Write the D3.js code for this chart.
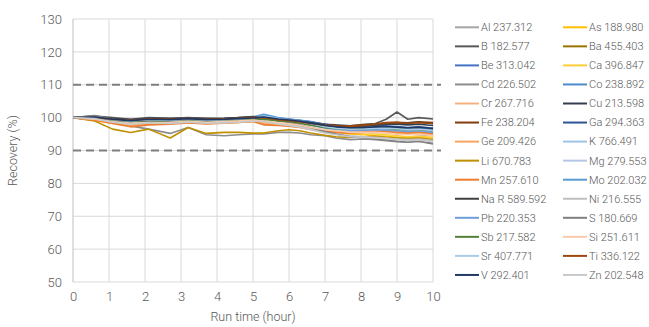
<!DOCTYPE html>
<html>
<head>
<meta charset="utf-8">
<script src="https://cdn.jsdelivr.net/npm/d3@7"></script>
<style>
  body { margin: 0; background: #fff; }
  text { font-family: Roboto, "Noto Sans", sans-serif; font-weight: 300; fill: #595959; }
</style>
</head>
<body>
<div id="chart"></div>
<script>
// run time (hour) at each measurement
const hours = [0, 0.6, 1.1, 1.6, 2.1, 2.7, 3.2, 3.7, 4.2, 4.6, 5.0, 5.3, 5.7, 6.0, 6.3, 6.6, 7.0, 7.3, 7.7, 8.1, 8.4, 8.7, 9.0, 9.3, 9.6, 10];

const elements = ["Al 237.312", "As 188.980", "B 182.577", "Ba 455.403", "Be 313.042", "Ca 396.847",
  "Cd 226.502", "Co 238.892", "Cr 267.716", "Cu 213.598", "Fe 238.204", "Ga 294.363",
  "Ge 209.426", "K 766.491", "Li 670.783", "Mg 279.553", "Mn 257.610", "Mo 202.032",
  "Na R 589.592", "Ni 216.555", "Pb 220.353", "S 180.669", "Sb 217.582", "Si 251.611",
  "Sr 407.771", "Ti 336.122", "V 292.401", "Zn 202.548"];

const colors = ["#a5a5a5", "#ffc000", "#595959", "#997300", "#4472c4", "#ffcd38",
  "#8c8c8c", "#4a8ccc", "#f4b183", "#333f50", "#843c0c", "#2f5597",
  "#f8a35e", "#9dc3e6", "#bf9000", "#b4c7e7", "#ed7d31", "#5b9bd5",
  "#404040", "#bfbfbf", "#6f9fd8", "#7f7f7f", "#548235", "#f8cbad",
  "#a9cceb", "#9e480e", "#1f3864", "#c9c9c9"];

// recovery (%) per element, same order as elements
const recovery = [
  [100, 100.5, 99.5, 99, 99.5, 99.5, 99.8, 99.5, 99.5, 99.8, 100, 100.2, 99.5, 99.3, 99, 98.5, 97.5, 97, 96.5, 96, 96, 95.5, 95, 95, 94.8, 94.5],
  [100, 99.5, 98.5, 98, 98.5, 98.5, 98.8, 98.5, 98.5, 98.5, 98.8, 98.5, 98, 97.8, 97.3, 96.5, 95.8, 95.5, 95, 94.8, 94.5, 94.3, 94, 93.8, 94, 93.8],
  [100, 100.5, 100, 99.5, 100, 99.8, 100, 99.8, 99.7, 100, 100.2, 100, 99.5, 99.3, 99, 98.5, 98, 97.8, 97.5, 98, 98.2, 99.5, 101.7, 99.5, 100, 99.6],
  [100, 100, 99.3, 99, 99.5, 99.3, 99.5, 99.3, 99.3, 99.5, 99.8, 99.8, 99.2, 99, 98.5, 98, 97.5, 97.5, 97.3, 97.5, 97.8, 98.3, 98.5, 98.3, 98.5, 98.3],
  [100, 100.3, 99.5, 99.3, 99.6, 99.5, 99.8, 99.5, 99.6, 99.8, 100, 100.5, 99.8, 99.5, 99.2, 98.8, 98, 97.5, 97.3, 97.3, 97.5, 97.5, 97.3, 97, 97.2, 96.8],
  [100, 99.5, 98.8, 98.3, 98.6, 98.6, 99, 98.7, 98.8, 98.8, 99, 99, 98.3, 98, 97.5, 96.8, 96, 95.8, 95.3, 95, 95, 94.8, 94.5, 94.2, 94.3, 94],
  [100, 99.8, 98.5, 97.5, 96.5, 95.2, 97, 94.8, 94.5, 94.8, 95, 95, 95.5, 95.5, 95.3, 94.8, 94.5, 93.8, 93.3, 93.5, 93.3, 93, 92.7, 92.5, 92.8, 92.2],
  [100, 100.2, 99.3, 99, 99.4, 99.3, 99.6, 99.3, 99.5, 99.7, 100, 100.8, 99.8, 99.5, 99, 98.5, 97.5, 97, 96.8, 96.8, 97, 97, 96.8, 96.5, 96.7, 96.3],
  [100, 99.3, 98.5, 97.8, 98.3, 98.5, 98.8, 98.5, 98.8, 99, 99.3, 98.3, 98, 97.8, 97.5, 97, 96.3, 96, 95.8, 95.8, 96, 96, 95.8, 95.5, 95.8, 95.3],
  [100, 100.2, 99.6, 99.3, 99.7, 99.6, 99.8, 99.6, 99.7, 99.9, 100, 100.3, 99.7, 99.4, 99, 98.6, 98, 97.6, 97.4, 97.6, 97.8, 98, 98, 97.8, 98, 97.6],
  [100, 100, 99.5, 99.2, 99.6, 99.4, 99.7, 99.5, 99.6, 99.8, 100, 100, 99.5, 99.2, 98.8, 98.3, 97.8, 97.6, 97.5, 97.8, 98, 98.5, 98.6, 98.4, 98.7, 98.5],
  [100, 100.1, 99.4, 99, 99.4, 99.3, 99.6, 99.3, 99.4, 99.6, 99.8, 100.1, 99.5, 99.2, 98.8, 98.3, 97.4, 97, 96.6, 96.7, 96.9, 97, 96.8, 96.6, 96.8, 96.4],
  [100, 99.2, 98.3, 97.5, 98, 98.2, 98.5, 98.2, 98.4, 98.6, 99, 98, 97.8, 97.5, 97.2, 96.5, 96, 95.6, 95.4, 95.5, 95.6, 95.5, 95.2, 95, 95.3, 94.8],
  [100, 100, 99.2, 98.8, 99.2, 99.1, 99.4, 99.1, 99.3, 99.5, 99.8, 100.3, 99.6, 99.2, 98.7, 98, 97, 96.6, 96.3, 96.4, 96.6, 96.5, 96.2, 96, 96.2, 95.7],
  [100, 99, 96.5, 95.5, 96.5, 93.8, 97, 95.2, 95.5, 95.5, 95.3, 95.3, 96, 96.3, 96, 95.3, 94.6, 94.2, 94, 94.2, 94.3, 94, 93.8, 93.6, 93.8, 93.3],
  [100, 100, 99.3, 98.9, 99.3, 99.2, 99.5, 99.2, 99.4, 99.6, 99.9, 100.4, 99.7, 99.3, 98.9, 98.2, 97.2, 96.8, 96.5, 96.6, 96.8, 96.8, 96.5, 96.3, 96.5, 96],
  [100, 99.2, 98.2, 97.2, 97.8, 98, 98.4, 98.1, 98.3, 98.5, 98.8, 97.8, 97.6, 97.4, 97, 96.4, 95.8, 95.5, 95.3, 95.6, 95.8, 95.8, 95.5, 95.3, 95.6, 95.2],
  [100, 100.3, 99.6, 99.3, 99.7, 99.6, 99.9, 99.6, 99.7, 99.9, 100.2, 101, 100, 99.6, 99.2, 98.7, 97.8, 97.3, 97, 97, 97.2, 97.2, 97, 96.8, 97, 96.6],
  [100, 100.3, 99.7, 99.4, 99.8, 99.7, 99.9, 99.7, 99.8, 100, 100.3, 100.2, 99.6, 99.3, 98.9, 98.5, 97.8, 97.5, 97.3, 97.5, 97.8, 98, 98.2, 98.4, 98.6, 98.2],
  [100, 99.8, 98.8, 98.2, 98.5, 98.3, 98.7, 98.4, 98.5, 98.7, 99, 99, 98.2, 97.8, 97.3, 96.5, 95.5, 95, 94.5, 94.2, 94, 93.8, 93.5, 93.3, 93.5, 93],
  [100, 100, 99.2, 98.8, 99.2, 99, 99.4, 99.1, 99.2, 99.4, 99.7, 100.2, 99.4, 99, 98.5, 97.8, 96.8, 96.3, 96, 96.2, 96.3, 96.2, 96, 95.8, 96, 95.5],
  [100, 100.6, 99.5, 98.8, 99, 98.8, 99.3, 99, 99.2, 99.4, 99.7, 99.8, 99, 98.5, 97.8, 97, 95.8, 95, 94.2, 93.8, 93.5, 93.2, 92.8, 92.6, 92.8, 92],
  [100, 99.9, 99.2, 98.8, 99.2, 98.5, 99.3, 98.8, 99, 99.2, 99.5, 99.5, 99, 98.8, 98.3, 97.7, 97, 96.7, 96.5, 96.7, 96.8, 96.8, 96.5, 96.3, 96.5, 96],
  [100, 99.5, 98.7, 98.2, 98.5, 98.6, 98.9, 98.6, 98.8, 99, 99.3, 98.8, 98.4, 98.1, 97.7, 97, 96.3, 96, 95.6, 95.5, 95.5, 95.3, 95, 94.8, 95, 94.5],
  [100, 100.1, 99.4, 99, 99.4, 99.2, 99.5, 99.2, 99.4, 99.6, 99.9, 100.5, 99.7, 99.3, 98.8, 98.2, 97.2, 96.8, 96.5, 96.6, 96.8, 96.8, 96.6, 96.3, 96.5, 96.1],
  [100, 100, 99.5, 99.2, 99.6, 99.5, 99.8, 99.5, 99.6, 99.8, 100, 100, 99.4, 99.1, 98.7, 98.2, 97.7, 97.5, 97.4, 97.7, 98, 98.4, 98.5, 98.3, 98.5, 98.2],
  [100, 100.2, 99.5, 99.1, 99.5, 99.4, 99.7, 99.4, 99.5, 99.7, 99.9, 100.2, 99.6, 99.3, 98.9, 98.4, 97.6, 97.2, 96.9, 97, 97.2, 97.3, 97.1, 96.9, 97.1, 96.7],
  [100, 99.7, 98.6, 98, 98.4, 98.2, 98.6, 98.3, 98.4, 98.6, 98.9, 98.8, 98, 97.6, 97.1, 96.3, 95.3, 94.8, 94.2, 94, 93.8, 93.6, 93.3, 93, 93.2, 92.7]
];

const xTicks = [0, 1, 2, 3, 4, 5, 6, 7, 8, 9, 10];
const yTicks = [50, 60, 70, 80, 90, 100, 110, 120, 130];
const limits = [90, 110];

const W = 649, H = 327;
const margin = {top: 19, right: 216, bottom: 45, left: 73};
const width = W - margin.left - margin.right;
const height = H - margin.top - margin.bottom;

const svg = d3.select("#chart").append("svg")
  .attr("width", W)
  .attr("height", H);

const g = svg.append("g")
  .attr("transform", `translate(${margin.left},${margin.top})`);

const x = d3.scaleLinear().domain([0, 10]).range([0, width]);
const y = d3.scaleLinear().domain([50, 130]).range([height, 0]);

// grid
g.append("g")
  .selectAll("line")
  .data(yTicks)
  .join("line")
    .attr("x1", 0).attr("x2", width)
    .attr("y1", d => y(d)).attr("y2", d => y(d))
    .attr("stroke", "#d9d9d9");
g.append("g")
  .selectAll("line")
  .data(xTicks)
  .join("line")
    .attr("x1", d => x(d)).attr("x2", d => x(d))
    .attr("y1", 0).attr("y2", height)
    .attr("stroke", d => d === 0 ? "#bfbfbf" : "#d9d9d9");

// axes (labels only)
const yAxis = g.append("g")
  .call(d3.axisLeft(y).tickValues(yTicks).tickSize(0).tickPadding(11));
yAxis.select(".domain").remove();
yAxis.selectAll("text").attr("font-size", 13).attr("fill", "#7f7f7f").attr("font-family", null);

const xAxis = g.append("g")
  .attr("transform", `translate(0,${height})`)
  .call(d3.axisBottom(x).tickValues(xTicks).tickSize(0).tickPadding(10));
xAxis.select(".domain").remove();
xAxis.selectAll("text").attr("font-size", 13).attr("fill", "#7f7f7f").attr("font-family", null);

// limit lines
g.append("g")
  .selectAll("line")
  .data(limits)
  .join("line")
    .attr("x1", 0).attr("x2", width + 8)
    .attr("y1", d => y(d)).attr("y2", d => y(d))
    .attr("stroke", "#7f7f7f")
    .attr("stroke-width", 2)
    .attr("stroke-dasharray", "8,5");

// series
const line = d3.line()
  .x((d, i) => x(hours[i]))
  .y(d => y(d));

g.append("g")
  .selectAll("path")
  .data(recovery)
  .join("path")
    .attr("d", line)
    .attr("fill", "none")
    .attr("stroke", (d, i) => colors[i])
    .attr("stroke-width", 1.6)
    .attr("stroke-linejoin", "round");

// axis titles
svg.append("text")
  .attr("x", margin.left + width / 2)
  .attr("y", 321)
  .attr("text-anchor", "middle")
  .attr("font-size", 12.5)
  .text("Run time (hour)");

svg.append("text")
  .attr("transform", `translate(17,${margin.top + height / 2}) rotate(-90)`)
  .attr("text-anchor", "middle")
  .attr("font-size", 12.5)
  .text("Recovery (%)");

// legend
const legend = svg.append("g");
const item = legend.selectAll("g")
  .data(elements)
  .join("g")
    .attr("transform", (d, i) => `translate(${i % 2 === 0 ? 455 : 563},${27.3 + Math.floor(i / 2) * 19.05})`);
item.append("line")
  .attr("x1", 0).attr("x2", 24)
  .attr("stroke", (d, i) => colors[i])
  .attr("stroke-width", 2);
item.append("text")
  .attr("x", 26)
  .attr("dy", "0.35em")
  .attr("font-size", 11)
  .text(d => d);
</script>
</body>
</html>
